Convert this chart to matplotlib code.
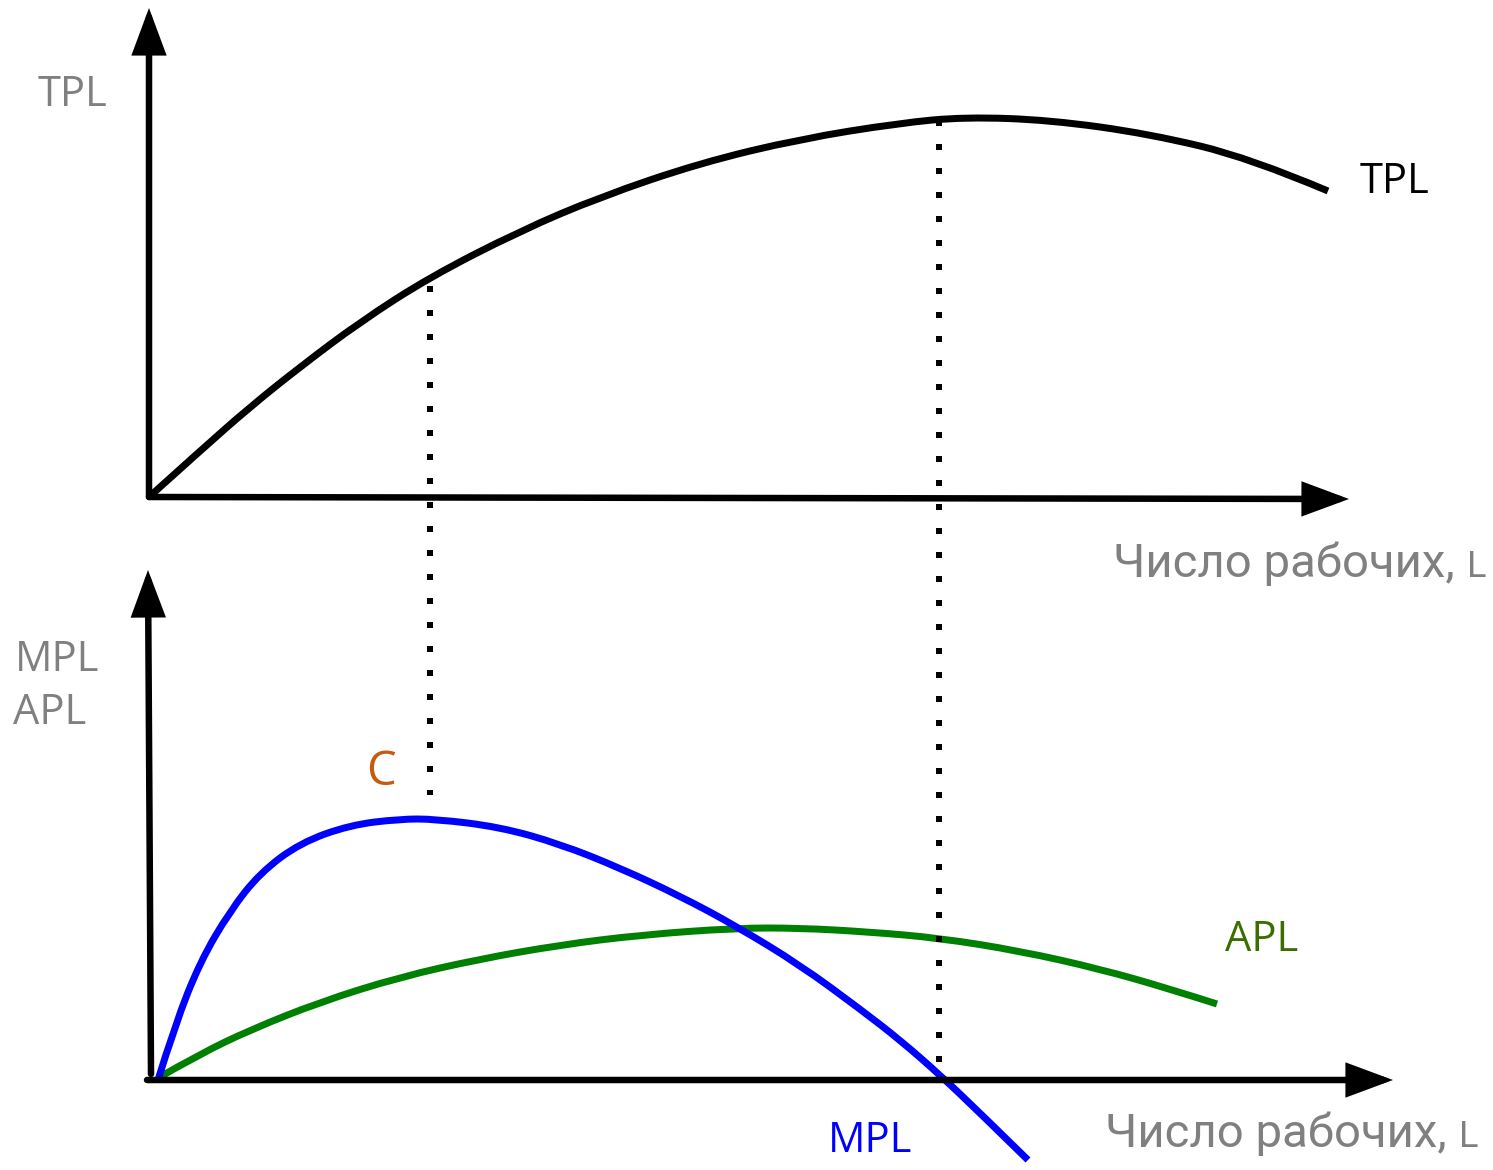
import matplotlib
matplotlib.use("Agg")
import matplotlib.pyplot as plt
from matplotlib.path import Path
from matplotlib.patches import PathPatch

# ---- data (diagram coordinates; y grows downward) ----
tpl_x = [149, 200, 250, 300, 360, 430, 520, 600, 700, 800, 900, 965, 1050, 1150, 1250, 1328]
tpl_y = [497, 451, 407, 367, 322, 277, 231, 197, 163, 139, 123, 117, 120, 134, 158, 191]

mpl_x = [158, 175, 200, 230, 260, 300, 350, 400, 435, 500, 560, 620, 680, 736, 800, 860, 900, 940, 980, 1028]
mpl_y = [1080, 1025, 962, 911, 873, 843, 825, 819, 819, 827, 844, 868, 896, 926, 965, 1009, 1040, 1075, 1113, 1160]

apl_x = [158, 200, 250, 320, 400, 480, 560, 640, 736, 800, 870, 939, 1020, 1100, 1170, 1217]
apl_y = [1078, 1054, 1030, 1002, 977, 959, 945, 935, 928, 928, 932, 938, 951, 969, 989, 1004]

dot_lines_x = [430, 939]
dot_lines_top = [286, 120]
dot_lines_bottom = [795, 1068]

axis_label_main = "Число рабочих,"
axis_label_var = "L"

# ---- figure ----
W, H = 1493, 1170
fig = plt.figure(figsize=(W / 100, H / 100), dpi=100)
ax = fig.add_axes([0, 0, 1, 1])
ax.set_xlim(0, W)
ax.set_ylim(H, 0)
ax.axis("off")

PX = 0.72  # points per pixel at dpi 100
axis_lw = 6.5 * PX
curve_lw = 7.0 * PX


def arrow(x0, y0, x1, y1):
    ax.annotate("", xy=(x1, y1), xytext=(x0, y0),
                arrowprops=dict(arrowstyle="-|>,head_length=%f,head_width=%f" % (35 * PX, 13 * PX),
                                mutation_scale=1, lw=axis_lw, color="black",
                                shrinkA=0, shrinkB=0, joinstyle="miter"))


def smooth_curve(xs, ys, color):
    # quadratic B-spline through the read points used as control polygon
    pts = list(zip(xs, ys))
    verts = [pts[0]]
    codes = [Path.MOVETO]
    for i in range(1, len(pts) - 1):
        nxt = pts[i + 1] if i == len(pts) - 2 else ((pts[i][0] + pts[i + 1][0]) / 2,
                                                      (pts[i][1] + pts[i + 1][1]) / 2)
        verts += [pts[i], nxt]
        codes += [Path.CURVE3, Path.CURVE3]
    ax.add_patch(PathPatch(Path(verts, codes), facecolor="none", edgecolor=color,
                           lw=curve_lw, capstyle="butt"))


# top panel axes
arrow(149, 497, 149, 8)
arrow(149, 497, 1349, 499)
# bottom panel axes
arrow(151, 1074, 148, 570)
arrow(147, 1080, 1393, 1080)

# dotted guide lines
for x, t, b in zip(dot_lines_x, dot_lines_top, dot_lines_bottom):
    ax.plot([x, x], [t, b], color="black", lw=6 * PX, linestyle=(0, (1, 3)),
            dash_capstyle="butt")

# curves
smooth_curve(tpl_x, tpl_y, "black")
smooth_curve(apl_x, apl_y, "#008000")
smooth_curve(mpl_x, mpl_y, "#0000FF")

# labels
fs_small = 30
gray = "#808080"
ax.text(72, 95, "TPL", color=gray, fontsize=fs_small, family="Open Sans", ha="center", va="center")
ax.text(1395, 182, "TPL", color="black", fontsize=fs_small, family="Open Sans", ha="center", va="center")
ax.text(57, 660, "MPL", color=gray, fontsize=fs_small, family="Open Sans", ha="center", va="center")
ax.text(50, 713, "APL", color=gray, fontsize=fs_small, family="Open Sans", ha="center", va="center")
ax.text(381, 772, "C", color="#C55A11", fontsize=34, family="Open Sans", ha="center", va="center")
ax.text(1262, 940, "APL", color="#3A6F00", fontsize=fs_small, family="Open Sans", ha="center", va="center")
ax.text(870, 1141, "MPL", color="#0000FF", fontsize=fs_small, family="Open Sans", ha="center", va="center")

for (xl, xr, yb) in [(1113, 1487, 577), (1105, 1478, 1147)]:
    ax.text(xl, yb, axis_label_main, color=gray, fontsize=34, family="Roboto",
            ha="left", va="baseline")
    ax.text(xr, yb, axis_label_var, color=gray, fontsize=26, family="Roboto",
            ha="right", va="baseline")

fig.savefig("out.png", dpi=100)
